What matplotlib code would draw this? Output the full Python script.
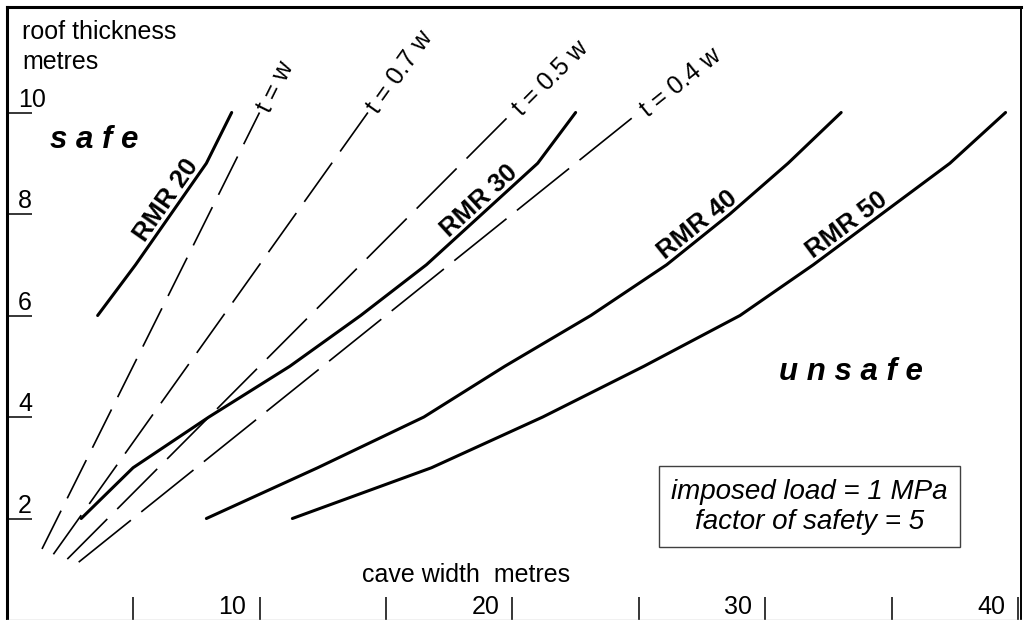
import numpy as np
import matplotlib.pyplot as plt

plt.rcParams['font.family'] = ['Liberation Sans', 'DejaVu Sans']
plt.rcParams['lines.scale_dashes'] = False

# roof thickness (m) against cave width (m) for each rock mass rating
rmr_names = ['RMR 20', 'RMR 30', 'RMR 40', 'RMR 50']
thick_20 = [6, 7, 8, 9, 10]
width_20 = [3.6, 5.1, 6.5, 7.9, 8.9]
thick = [2, 3, 4, 5, 6, 7, 8, 9, 10]
width_30 = [2.95, 5.0, 8.0, 11.2, 14.0, 16.6, 18.8, 21.0, 22.5]
width_40 = [7.9, 12.3, 16.5, 19.7, 23.1, 26.1, 28.6, 30.9, 33.0]
width_50 = [11.3, 16.8, 21.2, 25.2, 29.0, 31.9, 34.6, 37.3, 39.5]
label_width = [6.7, 19.0, 27.6, 33.5]   # where each RMR label sits

# t = k w guide lines
ratios = [1.0, 0.7, 0.5, 0.4]
ratio_names = ['t = w', 't = 0.7 w', 't = 0.5 w', 't = 0.4 w']
ratio_start = [1.4, 1.85, 2.4, 2.85]
ratio_dash = [(30.8, 9.9), (34.6, 9.9), (40.8, 10.1), (48.2, 9.6)]

yticks = [2, 4, 6, 8, 10]
xticks = [5, 10, 15, 20, 25, 30, 35, 40]
xlabels = [10, 20, 30, 40]

fig = plt.figure(figsize=(10.26, 6.2), dpi=100)
ax = fig.add_axes([6.6 / 1026, 0, (1021 - 6.6) / 1026, 613 / 620])
ax.set_xlim(0, (1021 - 6.6) / 25.29)
ax.set_ylim(0, 613 / 50.75)

def screen_angle(w0, t0, w1, t1):
    p0 = ax.transData.transform((w0, t0))
    p1 = ax.transData.transform((w1, t1))
    return np.degrees(np.arctan2(p1[1] - p0[1], p1[0] - p0[0]))

# dashed guide lines
for k, w0, name, dash in zip(ratios, ratio_start, ratio_names, ratio_dash):
    w = np.array([w0, 10 / k])
    t = k * w
    ax.plot(w, t, color='black', lw=1.2, dashes=dash)
    ang = screen_angle(w[0], t[0], w[1], t[1])
    off = 2.5 * np.array([np.cos(np.radians(ang)), np.sin(np.radians(ang))])
    ax.annotate(name, xy=(w[1], t[1]), xytext=tuple(off), textcoords='offset points',
                rotation=ang, rotation_mode='anchor', ha='left', va='center_baseline',
                fontsize=18)

# RMR curves
curves = [(width_20, thick_20), (width_30, thick), (width_40, thick), (width_50, thick)]
for (w, t), name, wl in zip(curves, rmr_names, label_width):
    ax.plot(w, t, color='black', lw=2.2, solid_capstyle='round', solid_joinstyle='round')
    i = int(np.searchsorted(w, wl))
    tl = np.interp(wl, w, t)
    ang = screen_angle(w[i - 1], t[i - 1], w[i], t[i])
    ax.annotate(name, xy=(wl, tl), xytext=(0, 0), textcoords='offset points',
                rotation=ang, rotation_mode='anchor', ha='center', va='bottom',
                fontsize=18.5, fontweight='bold')

# axis ticks drawn inside the frame
ax.set_xticks(xticks)
ax.set_yticks(yticks)
ax.tick_params(axis='y', direction='in', length=18, width=1.1, labelleft=False)
ax.tick_params(axis='x', direction='in', length=16.5, width=1.1, labelbottom=False)
for v in yticks:
    ax.annotate(str(v), xy=(0, v), xycoords=('axes fraction', 'data'),
                xytext=(8.2, 4.3), textcoords='offset points',
                ha='left', va='baseline', fontsize=18)
for v in xlabels:
    ax.annotate(str(v), xy=(v, 0), xycoords=('data', 'axes fraction'),
                xytext=(-9.4, 4.3), textcoords='offset points',
                ha='right', va='baseline', fontsize=18)

ax.text(0.61, 11.44, 'roof thickness', fontsize=18, va='baseline')
ax.text(0.61, 10.85, 'metres', fontsize=18, va='baseline')
ax.text(14.05, 0.74, 'cave width  metres', fontsize=18, va='baseline')

ax.text(1.7, 9.31, 's a f e', fontsize=22.5, fontweight='bold', fontstyle='italic', va='baseline')
ax.text(30.55, 4.73, 'u n s a f e', fontsize=22.5, fontweight='bold', fontstyle='italic', va='baseline')

ax.text(31.75, 2.23, 'imposed load = 1 MPa\nfactor of safety = 5', fontsize=20,
        fontstyle='italic', ha='center', va='center', multialignment='center',
        linespacing=1.2,
        bbox=dict(boxstyle='square,pad=0.45', fc='white', ec='#404040', lw=1.0))

for side in ['left', 'top']:
    ax.spines[side].set_linewidth(2.2)
ax.spines['right'].set_linewidth(1.4)
ax.spines['bottom'].set_linewidth(1.0)
ax.spines['bottom'].set_color('#bbbbbb')

fig.savefig('out.png', dpi=100)
